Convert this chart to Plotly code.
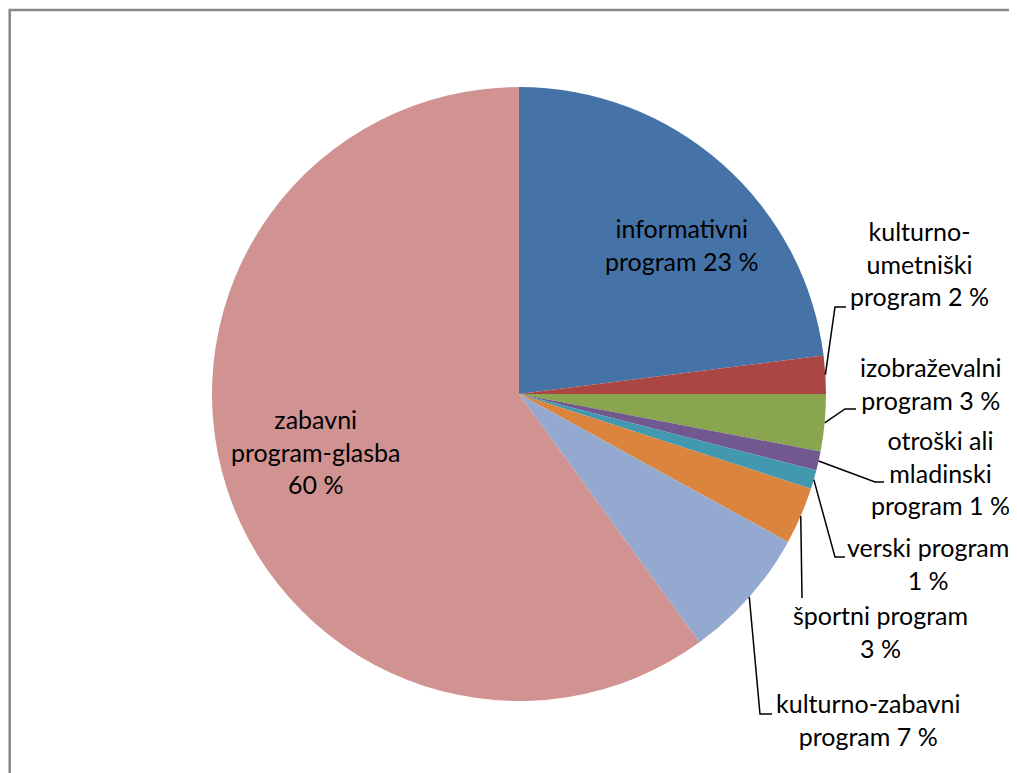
import math
import plotly.graph_objects as go

# data: share of broadcast time by program type (%)
categories = [
    "informativni program",
    "kulturno-umetniški program",
    "izobraževalni program",
    "otroški ali mladinski program",
    "verski program",
    "športni program",
    "kulturno-zabavni program",
    "zabavni program-glasba",
]
values = [23, 2, 3, 1, 1, 3, 7, 60]
label_texts = [
    "informativni<br>program 23 %",
    "kulturno-<br>umetniški<br>program 2 %",
    "izobraževalni<br>program 3 %",
    "otroški ali<br>mladinski<br>program 1 %",
    "verski program<br>1 %",
    "športni program<br>3 %",
    "kulturno-zabavni<br>program 7 %",
    "zabavni<br>program-glasba<br>60 %",
]
colors = ["#4572A7", "#AA4643", "#89A54E", "#71588F",
          "#4198AF", "#DB843D", "#93A9CF", "#D19392"]

# the page body adds an 8px margin, so the figure is a bit smaller
OFF = 8
W, H = 1017 - OFF, 773 - OFF
CX, CY, R = 519, 394, 307   # page pixels


def px(x):
    return (x - OFF) / W


def py(y):
    return 1 - (y - OFF) / H


# label placement in page pixels: (center x, center y, elbow points); None = inside slice
label_pos = [
    (681, 244, None),
    (919, 264, [(835, 307), (846, 307)]),
    (930, 383, [(845, 409), (856, 409)]),
    (940, 473, [(875, 482), (884, 482)]),
    (928, 563, [(835, 557), (845, 557)]),
    (880, 631, [(802, 598)]),
    (868, 719, [(760, 714), (772, 714)]),
    (315, 451, None),
]

fig = go.Figure()
fig.add_trace(go.Pie(
    labels=categories,
    values=values,
    sort=False,
    direction="clockwise",
    rotation=0,
    textinfo="none",
    marker=dict(colors=colors, line=dict(width=0)),
    domain=dict(x=[px(CX - R), px(CX + R)], y=[py(CY + R), py(CY - R)]),
    showlegend=False,
))

total = sum(values)
cum = 0
shapes = []
annotations = []
for v, txt, (lx, ly, elbow) in zip(values, label_texts, label_pos):
    mid = (cum + v / 2) / total * 2 * math.pi
    cum += v
    annotations.append(dict(
        x=px(lx), y=py(ly), xref="paper", yref="paper",
        text=txt, showarrow=False, xanchor="center", yanchor="middle",
        align="center", font=dict(family="Lato", size=25, color="#000000"),
    ))
    if elbow:
        ex = CX + R * math.sin(mid)
        ey = CY - R * math.cos(mid)
        pts = [(ex, ey)] + elbow
        path = "M " + " L ".join(f"{px(a):.5f},{py(b):.5f}" for a, b in pts)
        shapes.append(dict(type="path", path=path, xref="paper", yref="paper",
                           line=dict(color="#000000", width=1.5)))

# chart border
shapes.append(dict(type="rect", xref="paper", yref="paper",
                   x0=px(9.7), x1=1.01, y0=-0.01, y1=py(10),
                   line=dict(color="#878787", width=2.5)))

fig.update_layout(
    width=W, height=H,
    margin=dict(l=0, r=0, t=0, b=0),
    paper_bgcolor="white",
    plot_bgcolor="white",
    shapes=shapes,
    annotations=annotations,
)

fig.write_html("out.html")
